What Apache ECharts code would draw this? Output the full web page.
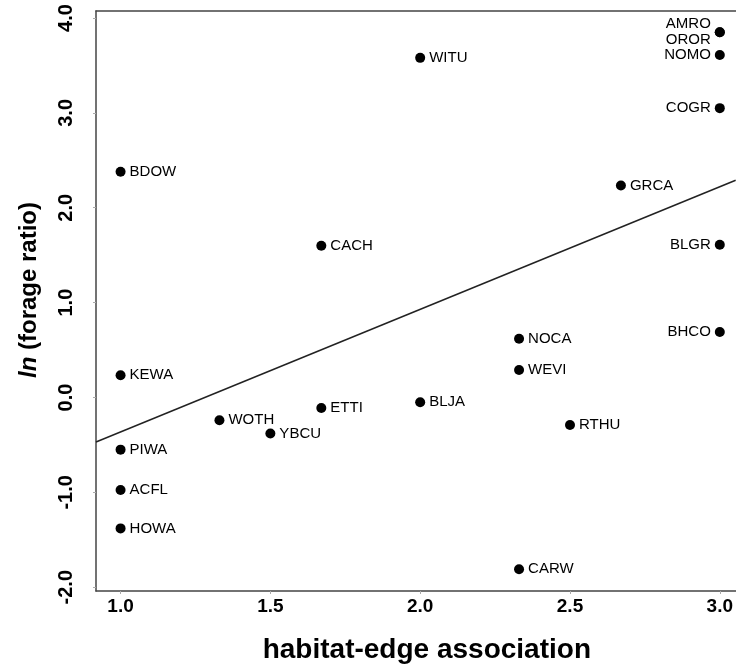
<!DOCTYPE html>
<html>
<head>
<meta charset="utf-8">
<script src="https://cdn.jsdelivr.net/npm/echarts@6/dist/echarts.min.js"></script>
<style>
html,body{margin:0;padding:0;background:#fff;}
#chart{width:736px;height:669px;}
</style>
</head>
<body>
<div id="chart"></div>
<script>
// Species codes
const species = ['BDOW','KEWA','PIWA','ACFL','HOWA','WOTH','YBCU','CACH','ETTI','WITU','BLJA','NOCA','WEVI','CARW','RTHU','GRCA','AMRO','OROR','NOMO','COGR','BLGR','BHCO'];
// habitat-edge association
const edgeAssoc = [1.0,1.0,1.0,1.0,1.0,1.33,1.5,1.67,1.67,2.0,2.0,2.33,2.33,2.33,2.5,2.67,3.0,3.0,3.0,3.0,3.0,3.0];
// ln(forage ratio)
const forageRatio = [2.38,0.235,-0.55,-0.975,-1.38,-0.24,-0.38,1.6,-0.11,3.58,-0.05,0.62,0.29,-1.81,-0.29,2.235,3.85,3.85,3.61,3.05,1.61,0.69];
// regression line endpoints
const fitX = [0.918, 3.053];
const fitY = [-0.47, 2.29];
const xTicks = [1.0,1.5,2.0,2.5,3.0];
const yTicks = [-2,-1,0,1,2,3,4];

const leftSide = {AMRO:[0,-8], OROR:[0,8], NOMO:[0,0], COGR:[0,0], BLGR:[0,0], BHCO:[0,0]};

const baseFont = '"Liberation Sans",Arial,sans-serif';
const pts = species.map((s,i)=>{
  const item = {name:s, value:[edgeAssoc[i], forageRatio[i]]};
  if (leftSide[s]) {
    item.label = {show:true, position:'left', distance:4, offset:leftSide[s], formatter:s, fontSize:15, color:'#000', fontFamily:baseFont};
  }
  return item;
});

const chart = echarts.init(document.getElementById('chart'));
chart.setOption({
  animation:false,
  backgroundColor:'#fff',
  grid:{left:96, top:11, right:0, bottom:77, containLabel:false},
  xAxis:[{
    type:'value', min:0.918, max:3.053,
    axisLine:{show:true, onZero:false, lineStyle:{color:'#444', width:1.5}},
    splitLine:{show:false},
    axisTick:{show:true, length:3, customValues:xTicks, lineStyle:{color:'#aaa'}},
    axisLabel:{customValues:xTicks, formatter:v=>v.toFixed(1), fontSize:19, fontWeight:'bold', color:'#000', fontFamily:baseFont, margin:6},
    name:'habitat-edge association', nameLocation:'middle', nameGap:45,
    nameTextStyle:{fontSize:28, fontWeight:'bold', color:'#000', fontFamily:baseFont, padding:[0,0,0,22]}
  },{
    type:'value', position:'top', min:0.918, max:3.053,
    axisLine:{show:true, onZero:false, lineStyle:{color:'#444', width:1.5}},
    axisTick:{show:false}, axisLabel:{show:false}, splitLine:{show:false}
  }],
  yAxis:{
    type:'value', min:-2.04, max:4.074,
    axisLine:{show:true, onZero:false, lineStyle:{color:'#444', width:1.5}},
    splitLine:{show:false},
    axisTick:{show:true, length:3, customValues:yTicks, lineStyle:{color:'#aaa'}},
    axisLabel:{customValues:yTicks, rotate:90, formatter:v=>v.toFixed(1), fontSize:20, fontWeight:'bold', color:'#000', fontFamily:baseFont, margin:20},
    name:'{i|ln} (forage ratio)', nameLocation:'middle', nameGap:55, nameRotate:90,
    nameTextStyle:{fontSize:24, fontWeight:'bold', color:'#000', fontFamily:baseFont, padding:[0,0,0,22],
      rich:{i:{fontStyle:'italic', fontSize:24, fontWeight:'bold', color:'#000', fontFamily:baseFont}}}
  },
  series:[{
    type:'line', data:fitX.map((x,i)=>[x,fitY[i]]), symbol:'none', silent:true,
    lineStyle:{color:'#222', width:1.5}, z:1
  },{
    type:'scatter', data:pts, symbol:'circle', symbolSize:10,
    itemStyle:{color:'#000', opacity:1},
    label:{show:true, position:'right', distance:4, formatter:p=>p.name, fontSize:15, color:'#000', fontFamily:baseFont},
    z:3
  }]
});
</script>
</body>
</html>
